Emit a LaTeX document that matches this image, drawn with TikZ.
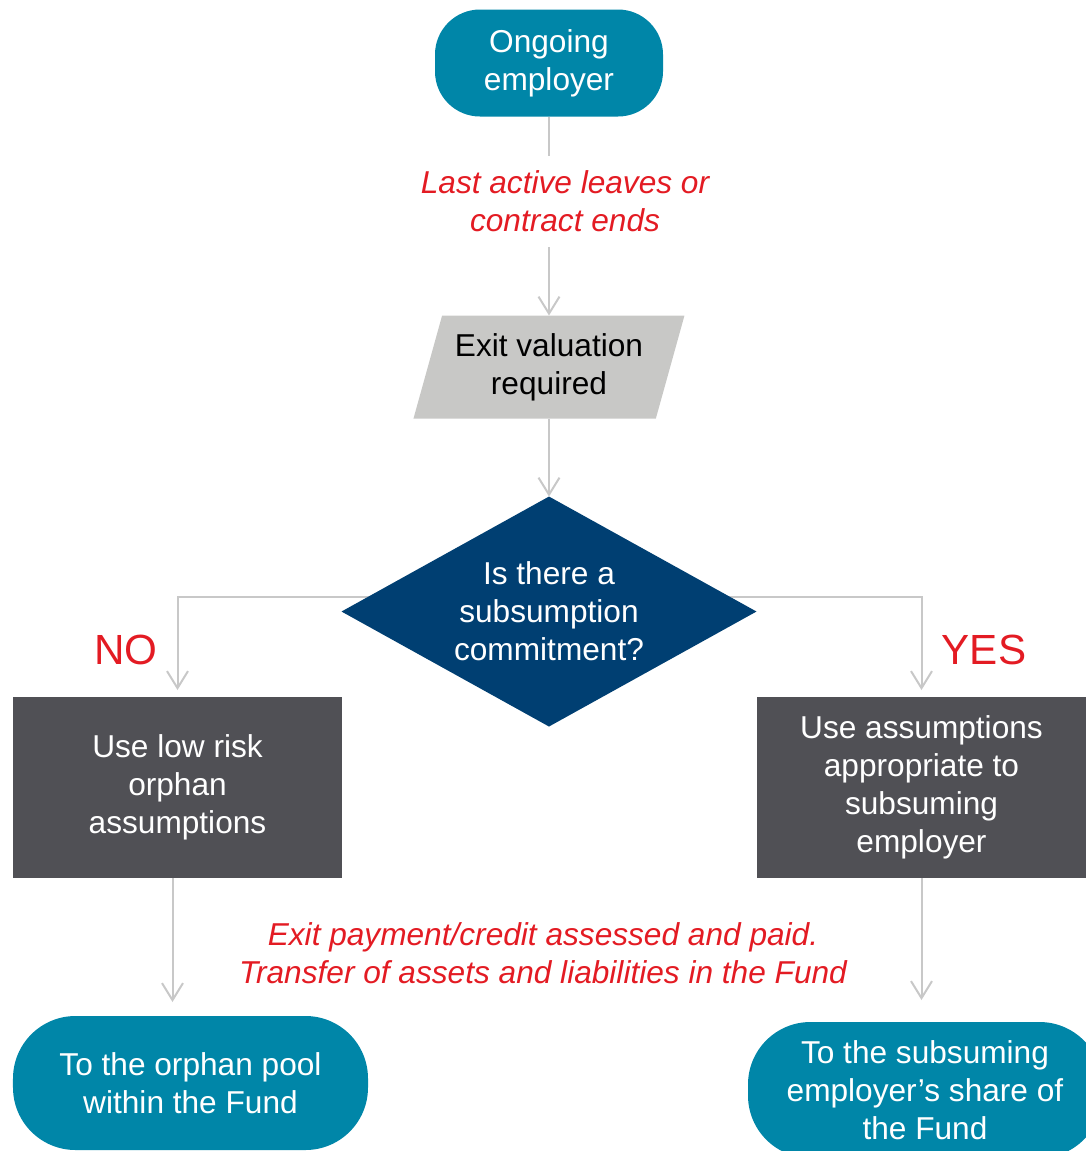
\documentclass[tikz,border=0pt]{standalone}
\usepackage{fontspec}
\setmainfont{Liberation Sans}
\usetikzlibrary{shapes.geometric, arrows.meta, positioning, backgrounds}
\definecolor{cTeal}{RGB}{0, 134, 168}
\definecolor{cNavy}{RGB}{0, 63, 114}
\definecolor{cSlate}{RGB}{80, 80, 85}
\definecolor{cStone}{RGB}{200, 200, 198}
\definecolor{cLine}{RGB}{200, 200, 200}
\definecolor{cRed}{RGB}{227, 27, 35}
\tikzset{
    baseFont/.style={
        font=\fontsize{18}{21.6}\selectfont
    },
    endBox/.style={
        rectangle, fill=cTeal, text=white,
        align=center, baseFont, inner sep=0pt, outer sep=0pt
    },
    stepBox/.style={
        rectangle, fill=cSlate, text=white,
        minimum width=6.58cm, minimum height=3.62cm,
        align=center, baseFont, inner sep=0pt, outer sep=0pt
    },
    inputBox/.style={
        trapezium, trapezium left angle=67, trapezium right angle=113,
        trapezium stretches body=true,
        minimum width=5.42cm, minimum height=2.06cm,
        fill=cStone, text=black,
        align=center, baseFont, inner sep=0pt, outer sep=0pt
    },
    decisionBox/.style={
        diamond, shape aspect=1.8,
        minimum width=8.3cm, minimum height=4.6cm,
        fill=cNavy, text=white,
        align=center, baseFont, inner sep=0pt, outer sep=0pt
    },
    stepNote/.style={
        align=center, baseFont, text=cRed, inner sep=0.3cm
    },
    branchLabel/.style={
        font=\fontsize{24}{28}\selectfont, text=cRed
    },
    flowArrow/.style={
        -{Straight Barb[length=3.4mm, width=4.2mm]},
        line width=0.04cm, draw=cLine
    }
}

\begin{document}
\begin{tikzpicture}

	\useasboundingbox (0,0) rectangle (21.72,-23.02);

	% =========================================================
	% Main column
	% =========================================================

	\node [endBox, rounded corners=0.9cm,
		minimum width=4.56cm, minimum height=2.14cm] (ongoing) at (10.98,-1.26) {
		Ongoing\\employer
	};

	\node [stepNote, below=0.78cm of ongoing, xshift=0.32cm] (leaveNote) {
		\itshape Last active leaves or\\
		\itshape contract ends
	};

	\node [inputBox, below=3.98cm of ongoing] (exitval) {
		Exit valuation\\required
	};

	\node [decisionBox, below=1.56cm of exitval] (subsume) {
		Is there a\\subsumption\\commitment?
	};

	\draw [line width=0.04cm, draw=cLine] (ongoing.south) -- (ongoing.south |- leaveNote.north);
	\draw [flowArrow] (ongoing.south |- leaveNote.south) -- (exitval.north);
	\draw [flowArrow] (exitval.south) -- (subsume.north);

	% =========================================================
	% Branches
	% =========================================================

	\node [stepBox] (orphanBox) at (3.55,-15.75) {
		Use low risk\\orphan\\assumptions
	};

	\node [stepBox] (subsumeBox) at (18.43,-15.75) {
		Use assumptions\\appropriate to\\subsuming\\employer
	};

	\node [branchLabel] (noLabel) at (2.52,-13.0) {NO};
	\node [branchLabel] (yesLabel) at (19.68,-13.0) {YES};

	\begin{scope}[on background layer]
		\draw [flowArrow, shorten >=0.14cm] ([yshift=0.3cm]subsume.center) -| (orphanBox.north);
		\draw [flowArrow, shorten >=0.14cm] ([yshift=0.3cm]subsume.center) -| (subsumeBox.north);
	\end{scope}

	% =========================================================
	% Outcomes
	% =========================================================

	\node [endBox, rounded corners=1.25cm,
		minimum width=7.1cm, minimum height=2.68cm,
		below=2.76cm of orphanBox, xshift=0.26cm] (orphanPool) {
		To the orphan pool\\within the Fund
	};

	\node [endBox, rounded corners=1.25cm,
		minimum width=7.08cm, minimum height=2.72cm,
		below=2.88cm of subsumeBox, xshift=0.07cm] (subsumeShare) {
		To the subsuming\\employer’s share of\\the Fund
	};

	\node [stepNote] (exitNote) at (10.86,-19.06) {
		\itshape Exit payment/credit assessed and paid.\\
		\itshape Transfer of assets and liabilities in the Fund
	};

	\draw [flowArrow, shorten >=0.28cm] ([xshift=-0.1cm]orphanBox.south) -- ([xshift=-0.1cm]orphanBox.south |- orphanPool.north);
	\draw [flowArrow, shorten >=0.44cm] (subsumeBox.south) -- (subsumeBox.south |- subsumeShare.north);

\end{tikzpicture}
\end{document}
